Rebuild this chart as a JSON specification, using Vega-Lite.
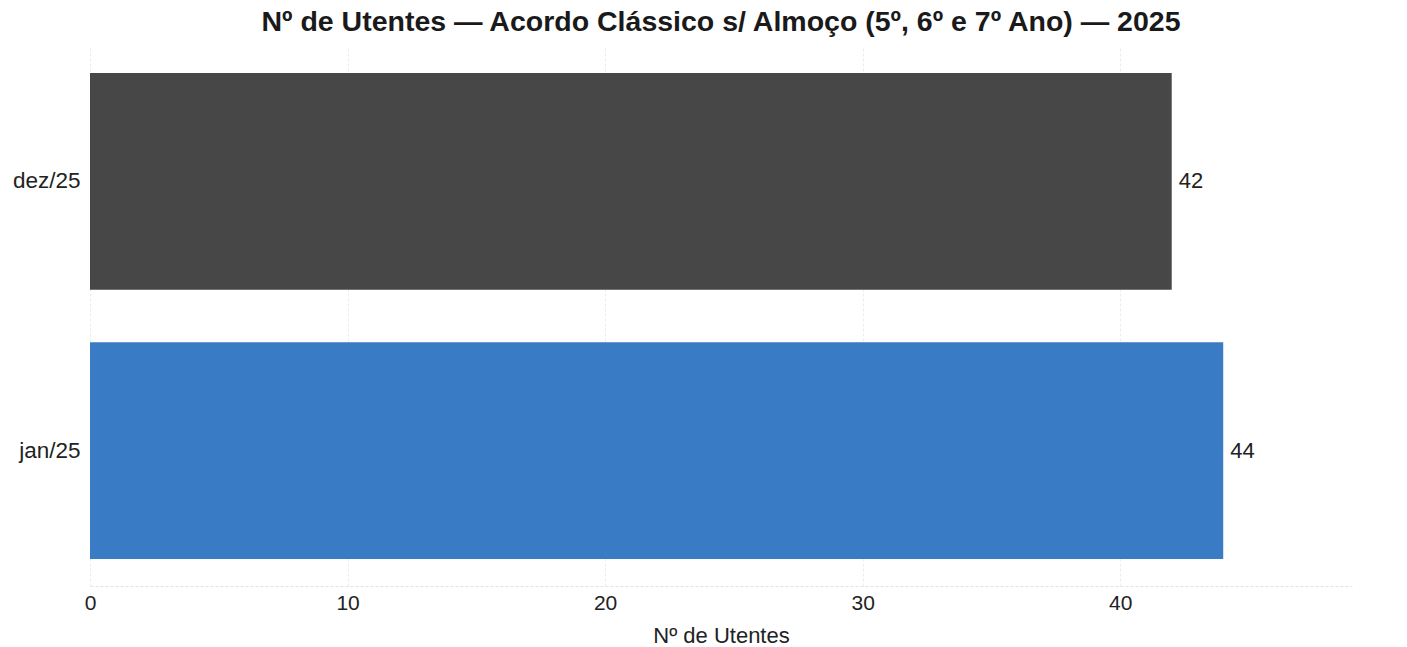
{
  "$schema": "https://vega.github.io/schema/vega-lite/v6.json",
  "autosize": {"type": "none"},
  "width": 1262,
  "height": 540,
  "padding": {"left": 90, "top": 46, "right": 55, "bottom": 61},
  "background": "white",
  "title": {
    "text": "Nº de Utentes — Acordo Clássico s/ Almoço (5º, 6º e 7º Ano) — 2025",
    "font": "Liberation Sans",
    "fontSize": 28.5,
    "fontWeight": "bold",
    "color": "#1a1a1a",
    "anchor": "middle",
    "offset": 10
  },
  "data": {
    "values": [
      {"mes": "dez/25", "utentes": 42},
      {"mes": "jan/25", "utentes": 44}
    ]
  },
  "config": {
    "view": {"stroke": null},
    "font": "Liberation Sans"
  },
  "encoding": {
    "y": {
      "field": "mes",
      "type": "nominal",
      "sort": ["dez/25", "jan/25"],
      "scale": {"paddingInner": 0.195, "paddingOuter": 0.1},
      "axis": {
        "title": null,
        "labelFontSize": 22.5,
        "labelColor": "#222",
        "labelPadding": 10,
        "ticks": false,
        "domain": false,
        "grid": false
      }
    },
    "x": {
      "field": "utentes",
      "type": "quantitative",
      "scale": {"domain": [0, 49], "nice": false},
      "axis": {
        "title": "Nº de Utentes",
        "titleFontSize": 22,
        "titleFontWeight": "normal",
        "titleColor": "#222",
        "titlePadding": 12,
        "values": [0, 10, 20, 30, 40],
        "labelFontSize": 21,
        "labelColor": "#222",
        "labelPadding": 6,
        "labelFlush": false,
        "ticks": false,
        "domainColor": "#dde3ea",
        "domainDash": [3, 2],
        "gridColor": "#e8edf2",
        "gridDash": [3, 2]
      }
    }
  },
  "layer": [
    {
      "mark": {"type": "bar"},
      "encoding": {
        "color": {
          "field": "mes",
          "type": "nominal",
          "scale": {"domain": ["dez/25", "jan/25"], "range": ["#474747", "#3a7bc6"]},
          "legend": null
        }
      }
    },
    {
      "mark": {"type": "text", "align": "left", "dx": 7, "fontSize": 22, "color": "#222"},
      "encoding": {
        "text": {"field": "utentes", "type": "quantitative"}
      }
    }
  ]
}
